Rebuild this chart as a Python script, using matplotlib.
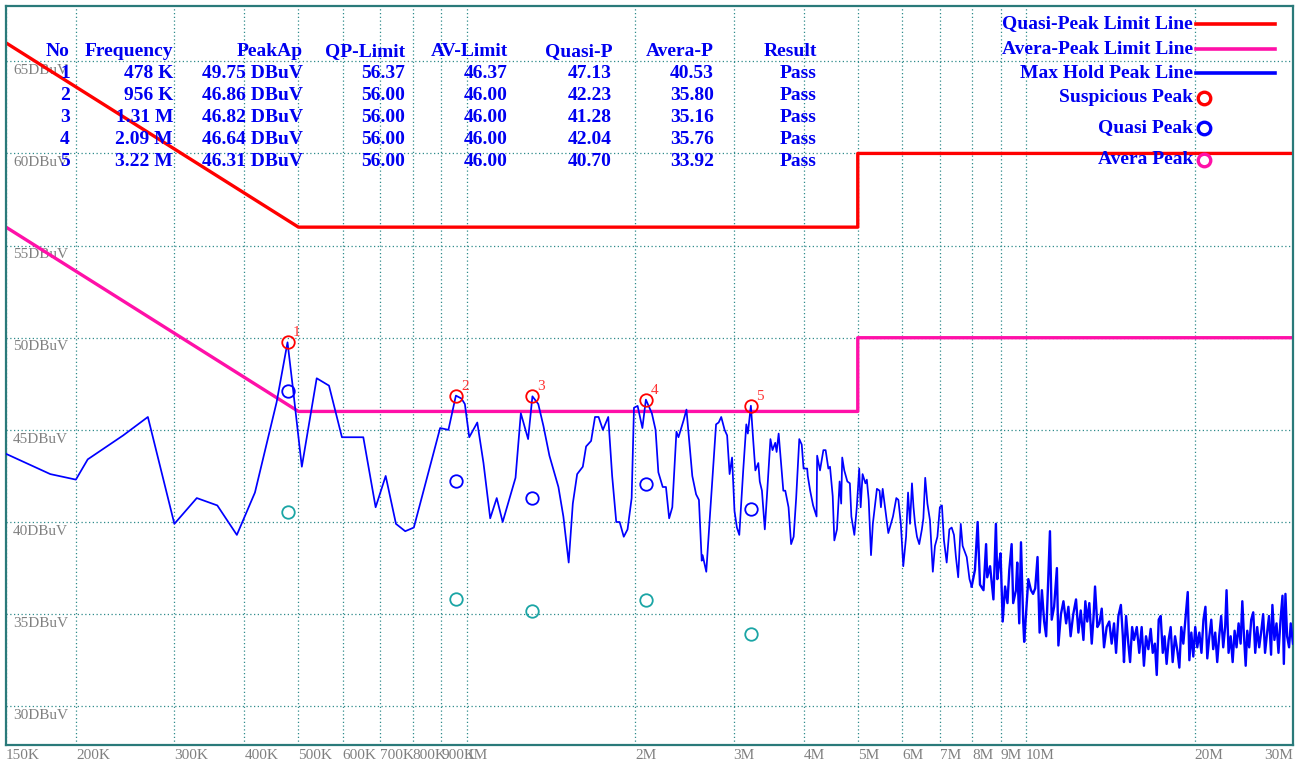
import matplotlib
matplotlib.use("Agg")
import matplotlib.pyplot as plt
from matplotlib.lines import Line2D
from matplotlib.ticker import NullLocator
from matplotlib.transforms import blended_transform_factory

plt.rcParams['font.family'] = ['Liberation Serif', 'DejaVu Serif']

W, H = 1306, 767

# limit lines (MHz, dBuV)
limit_freq = [0.15, 0.5, 5.0, 5.0, 30.0]
qp_limit = [66, 56, 56, 60, 60]
av_limit = [56, 46, 46, 50, 50]

# max hold trace (MHz, dBuV)
trace_freq = [
    0.150, 0.180, 0.200, 0.210, 0.243, 0.269, 0.300, 0.329, 0.358, 0.388,
    0.418, 0.444, 0.457, 0.478, 0.489, 0.507, 0.539, 0.567, 0.598, 0.653,
    0.687, 0.716, 0.747, 0.776, 0.804, 0.896, 0.927, 0.956, 0.978, 0.992,
    1.010, 1.044, 1.071, 1.101, 1.131, 1.159, 1.222, 1.249, 1.287, 1.310,
    1.342, 1.371, 1.405, 1.458, 1.488, 1.521, 1.547, 1.575, 1.612, 1.634,
    1.668, 1.695, 1.720, 1.751, 1.790, 1.819, 1.850, 1.876, 1.908, 1.938,
    1.971, 1.990, 2.020, 2.060, 2.090, 2.142, 2.175, 2.20, 2.24, 2.27,
    2.30, 2.33, 2.37, 2.39, 2.44, 2.47, 2.53, 2.57, 2.60, 2.63,
    2.64, 2.68, 2.72, 2.79, 2.82, 2.85, 2.89, 2.92, 2.95, 2.98,
    3.01, 3.04, 3.07, 3.12, 3.16, 3.18, 3.22, 3.25, 3.28, 3.32,
    3.34, 3.37, 3.41, 3.44, 3.49, 3.52, 3.56, 3.58, 3.61, 3.68,
    3.71, 3.76, 3.80, 3.84, 3.88, 3.93, 3.97, 4.00, 4.06, 4.07,
    4.11, 4.16, 4.22, 4.23, 4.28, 4.34, 4.38, 4.43, 4.46, 4.51,
    4.54, 4.59, 4.64, 4.67, 4.69, 4.73, 4.79, 4.84, 4.87, 4.93,
    4.98, 5.03, 5.06, 5.10, 5.16, 5.19, 5.23, 5.28, 5.32, 5.41,
    5.47, 5.50, 5.54, 5.60, 5.67, 5.73, 5.78, 5.86, 5.91, 5.97,
    6.03, 6.10, 6.15, 6.20, 6.25, 6.29, 6.33, 6.38, 6.44, 6.51,
    6.55, 6.60, 6.66, 6.73, 6.81, 6.87, 6.94, 7.01, 7.07, 7.13,
    7.21, 7.29, 7.36, 7.43, 7.49, 7.56, 7.64, 7.70, 7.83, 7.92,
    7.99, 8.10, 8.19, 8.27, 8.39, 8.48, 8.52, 8.62, 8.74, 8.83,
    8.88, 8.95, 9.00, 9.08, 9.17, 9.26, 9.33, 9.42, 9.48, 9.59,
    9.64, 9.72, 9.79, 9.88, 9.92, 10.09, 10.20, 10.29, 10.38, 10.48,
    10.57, 10.67, 10.77, 10.86, 10.91, 11.03, 11.11, 11.22, 11.35, 11.42,
    11.54, 11.66, 11.79, 11.90, 12.01, 12.14, 12.28, 12.40, 12.52, 12.66,
    12.76, 12.86, 12.97, 13.10, 13.19, 13.28, 13.41, 13.52, 13.65, 13.78,
    13.93, 14.08, 14.22, 14.36, 14.48, 14.62, 14.77, 14.89, 14.96, 15.09,
    15.23, 15.34, 15.47, 15.59, 15.77, 15.93, 16.09, 16.24, 16.38, 16.54,
    16.70, 16.84, 16.99, 17.12, 17.26, 17.40, 17.55, 17.68, 17.83, 17.98,
    18.13, 18.28, 18.46, 18.64, 18.79, 18.94, 19.10, 19.26, 19.45, 19.58,
    19.74, 19.90, 20.06, 20.23, 20.40, 20.58, 20.75, 20.92, 21.08, 21.26,
    21.43, 21.60, 21.78, 21.96, 22.14, 22.32, 22.51, 22.69, 22.82, 23.01,
    23.21, 23.40, 23.59, 23.78, 23.98, 24.18, 24.35, 24.52, 24.69, 24.85,
    25.05, 25.26, 25.47, 25.68, 25.89, 26.10, 26.31, 26.53, 26.74, 26.97,
    27.18, 27.41, 27.56, 27.79, 28.03, 28.26, 28.50, 28.73, 28.89, 29.08,
    29.28, 29.52, 29.72, 30.00,
]
trace_level = [
    43.7, 42.6, 42.3, 43.4, 44.7, 45.7, 39.9, 41.3, 40.9, 39.3,
    41.6, 44.9, 46.5, 49.75, 47.2, 43.0, 47.8, 47.4, 44.6, 44.6,
    40.8, 42.5, 39.9, 39.5, 39.7, 45.1, 45.0, 46.86, 46.7, 46.4,
    44.6, 45.4, 43.2, 40.2, 41.3, 40.0, 42.4, 45.9, 44.5, 46.82,
    46.4, 45.2, 43.6, 41.9, 40.3, 37.8, 41.0, 42.6, 43.0, 44.1,
    44.4, 45.7, 45.7, 45.0, 45.7, 42.5, 40.0, 40.0, 39.2, 39.6,
    41.3, 46.2, 46.3, 45.1, 46.64, 45.9, 45.0, 42.7, 41.9, 41.9,
    40.2, 40.8, 44.9, 44.6, 45.5, 46.1, 42.5, 41.5, 41.2, 37.9,
    38.2, 37.3, 40.3, 45.3, 45.4, 45.7, 45.0, 44.7, 42.6, 43.5,
    40.6, 39.7, 39.3, 42.8, 45.3, 44.8, 46.31, 44.5, 42.8, 43.2,
    42.2, 41.7, 39.6, 41.4, 44.5, 43.9, 44.3, 43.8, 44.8, 41.7,
    41.7, 40.8, 38.8, 39.2, 41.3, 44.5, 44.2, 42.9, 42.9, 42.5,
    41.7, 40.9, 40.3, 43.6, 42.8, 43.9, 43.9, 42.9, 43.0, 41.4,
    39.0, 39.6, 42.2, 41.0, 43.5, 42.8, 42.2, 42.1, 40.3, 39.3,
    40.8, 42.9, 40.8, 42.6, 42.1, 42.3, 41.2, 38.2, 39.9, 41.8,
    41.7, 40.8, 41.8, 40.7, 39.4, 39.9, 40.3, 41.3, 41.2, 39.9,
    37.6, 39.2, 41.6, 39.9, 42.1, 40.8, 39.9, 39.2, 38.8, 39.6,
    40.2, 42.4, 41.0, 40.1, 37.3, 38.7, 39.2, 40.8, 40.9, 39.0,
    37.8, 39.6, 39.7, 39.3, 38.1, 37.0, 39.9, 38.7, 38.1, 36.9,
    36.5, 37.4, 40.0, 36.6, 36.3, 38.8, 37.0, 37.6, 35.8, 39.9,
    36.9, 37.8, 38.3, 34.6, 36.5, 35.6, 37.4, 38.8, 35.6, 36.3,
    37.8, 34.5, 38.9, 34.6, 33.5, 36.9, 36.3, 36.1, 36.4, 38.1,
    34.0, 36.3, 34.6, 33.8, 35.5, 39.5, 34.7, 35.4, 37.5, 33.3,
    35.0, 35.7, 34.5, 35.4, 33.8, 35.0, 35.8, 34.0, 35.2, 33.6,
    35.7, 34.6, 35.6, 33.4, 34.7, 36.5, 34.3, 34.5, 35.3, 33.2,
    34.3, 34.6, 33.4, 34.5, 32.9, 34.9, 35.5, 33.8, 32.4, 34.9,
    33.4, 32.4, 34.3, 33.6, 34.3, 32.9, 34.3, 32.2, 33.8, 33.1,
    34.2, 32.9, 33.4, 31.7, 34.7, 34.9, 32.9, 33.8, 32.3, 33.6,
    34.3, 32.4, 33.8, 33.0, 32.1, 34.3, 33.4, 34.7, 36.2, 32.5,
    34.0, 32.7, 34.3, 33.2, 34.0, 32.9, 34.7, 35.4, 32.6, 33.8,
    34.7, 33.1, 34.0, 32.4, 33.8, 34.9, 33.2, 34.3, 36.3, 32.9,
    33.8, 32.4, 34.1, 33.2, 34.5, 33.4, 35.7, 33.8, 32.2, 34.1,
    33.2, 34.7, 35.1, 32.9, 34.3, 33.2, 34.0, 35.0, 32.9, 34.0,
    34.9, 32.8, 35.5, 33.6, 34.5, 32.9, 34.7, 36.0, 32.3, 36.1,
    33.8, 33.2, 34.5, 33.4,
]

# result table
peak_no = ["1", "2", "3", "4", "5"]
peak_freq = [0.478, 0.956, 1.31, 2.09, 3.22]
peak_freq_txt = ["478 K", "956 K", "1.31 M", "2.09 M", "3.22 M"]
peak_amp = [49.75, 46.86, 46.82, 46.64, 46.31]
qp_lim_at = [56.37, 56.00, 56.00, 56.00, 56.00]
av_lim_at = [46.37, 46.00, 46.00, 46.00, 46.00]
quasi_val = [47.13, 42.23, 41.28, 42.04, 40.70]
avera_val = [40.53, 35.80, 35.16, 35.76, 33.92]
result = ["Pass", "Pass", "Pass", "Pass", "Pass"]
headers = ["No", "Frequency", "PeakAp", "QP-Limit", "AV-Limit",
           "Quasi-P", "Avera-P", "Result"]

x_ticks = [0.15, 0.2, 0.3, 0.4, 0.5, 0.6, 0.7, 0.8, 0.9, 1, 2, 3, 4, 5,
           6, 7, 8, 9, 10, 20, 30]
x_tick_labels = ["150K", "200K", "300K", "400K", "500K", "600K", "700K",
                 "800K", "900K", "1M", "2M", "3M", "4M", "5M", "6M", "7M",
                 "8M", "9M", "10M", "20M", "30M"]
y_ticks = [30, 35, 40, 45, 50, 55, 60, 65]

RED = '#ff0000'
PINK = '#ff10a8'
BLUE = '#0000ff'
TEAL = '#1aa5a5'
TXT = '#0000f0'
GRID = '#2e8b8b'

fig = plt.figure(figsize=(W / 100, H / 100), dpi=100)
ax = fig.add_axes([6 / W, 22 / H, 1287 / W, 739 / H])
ax.set_xscale('log')
ax.set_xlim(0.15, 30)
ax.set_ylim(27.9, 68.0)

ax.plot(limit_freq, qp_limit, color=RED, lw=2.4, zorder=2)
ax.plot(limit_freq, av_limit, color=PINK, lw=2.4, zorder=2)

# the sweep gets very dense above ~8 MHz, draw that part a bit heavier
split = next(i for i, f in enumerate(trace_freq) if f >= 7.99)
ax.plot(trace_freq[:split + 1], trace_level[:split + 1], color=BLUE, lw=1.25, zorder=3)
ax.plot(trace_freq[split:], trace_level[split:], color=BLUE, lw=1.7, zorder=3)

ax.plot(peak_freq, peak_amp, 'o', mfc='none', mec=RED, ms=9, mew=1.3, zorder=4)
ax.plot(peak_freq, quasi_val, 'o', mfc='none', mec=BLUE, ms=9, mew=1.3, zorder=4)
ax.plot(peak_freq, avera_val, 'o', mfc='none', mec=TEAL, ms=9, mew=1.3, zorder=4)
for n, f, a in zip(peak_no, peak_freq, peak_amp):
    ax.annotate(n, (f, a), xytext=(5, 3), textcoords='offset pixels',
                color='#ff3333', fontsize=11, ha='left', va='bottom')

# axes, grid, ticks
ax.xaxis.set_minor_locator(NullLocator())
ax.set_xticks(x_ticks)
ax.set_xticklabels(x_tick_labels)
ax.set_yticks(y_ticks)
ax.set_yticklabels([])
ax.tick_params(length=0, pad=3, labelsize=11, labelcolor='#808080')
for lbl in ax.get_xticklabels():
    lbl.set_ha('left')
ax.get_xticklabels()[-1].set_ha('right')
ax.grid(True, color=GRID, linestyle=(0, (1, 2)), linewidth=0.9)
for sp in ax.spines.values():
    sp.set_color('#2a7a7a')
    sp.set_linewidth(1.6)

trans = blended_transform_factory(ax.transAxes, ax.transData)
for y in y_ticks:
    ax.text(0.0054, y - 0.15, f"{y}DBuV", transform=trans, ha='left', va='top',
            color='#808080', fontsize=11, zorder=1)

# table
col_right = [70, 173, 303, 405, 508, 612, 714, 817]
row_y = [52, 73, 96, 118, 140, 162]
def ftxt(x, y, s, **kw):
    fig.text(x / W, 1 - y / H, s, ha='right', va='center', color=TXT,
             fontweight='bold', fontsize=14, **kw)

for x, h in zip(col_right, headers):
    ftxt(x, row_y[0], h)
for i in range(len(peak_no)):
    row = [peak_no[i], peak_freq_txt[i], f"{peak_amp[i]:.2f} DBuV",
           f"{qp_lim_at[i]:.2f}", f"{av_lim_at[i]:.2f}", f"{quasi_val[i]:.2f}",
           f"{avera_val[i]:.2f}", result[i]]
    for x, s in zip(col_right, row):
        ftxt(x, row_y[i + 1], s)

# legend
leg_items = [("Quasi-Peak Limit Line", 'line', RED, 24),
             ("Avera-Peak Limit Line", 'line', PINK, 49),
             ("Max Hold Peak Line", 'line', BLUE, 73),
             ("Suspicious Peak", 'circle', RED, 98),
             ("Quasi Peak", 'circle', BLUE, 128),
             ("Avera Peak", 'circle', PINK, 160)]
for label, kind, col, y in leg_items:
    ftxt(1193, y, label)
    yf = 1 - y / H
    if kind == 'line':
        fig.add_artist(Line2D([1196 / W, 1275 / W], [yf, yf], color=col, lw=2.6))
    else:
        fig.add_artist(Line2D([1204 / W], [yf], marker='o', mfc='none', mec=col,
                              ms=9, mew=2.4))

fig.savefig("out.png", dpi=100, facecolor='white')
